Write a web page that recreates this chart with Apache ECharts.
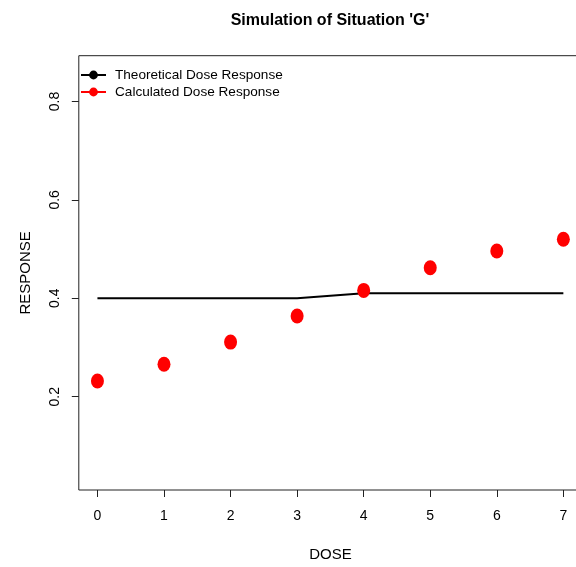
<!DOCTYPE html>
<html><head><meta charset="utf-8">
<script src="https://cdn.jsdelivr.net/npm/echarts@6/dist/echarts.min.js"></script>
<style>html,body{margin:0;padding:0;background:#fff}#c{width:576px;height:567px}</style>
</head><body><div id="c"></div>
<script>
const doses = [0, 1, 2, 3, 4, 5, 6, 7];
const theoretical = [0.40, 0.40, 0.40, 0.40, 0.41, 0.41, 0.41, 0.41];
const calculated = [0.232, 0.266, 0.311, 0.364, 0.416, 0.462, 0.496, 0.520];
const xTicks = [0, 1, 2, 3, 4, 5, 6, 7];
const yTicks = [0.2, 0.4, 0.6, 0.8];

const font = 'Liberation Sans, Arial, Helvetica, sans-serif';
const chart = echarts.init(document.getElementById('c'));
chart.setOption({
  animation: false,
  backgroundColor: '#fff',
  title: {
    text: "Simulation of Situation 'G'",
    left: 325, top: 8, textAlign: 'center',
    textStyle: {fontFamily: font, fontSize: 16, fontWeight: 'bold', color: '#000'}
  },
  legend: {
    orient: 'vertical', left: 75, top: 63,
    itemWidth: 25, itemHeight: 11, itemGap: 3,
    textStyle: {fontFamily: font, fontSize: 13.6, lineHeight: 11, color: '#000', padding: [0,0,0,4]},
    data: [
      {name: 'Theoretical Dose Response', itemStyle: {color: '#000'}, lineStyle: {color: '#000', width: 2, opacity: 1}},
      {name: 'Calculated Dose Response', itemStyle: {color: '#f00'}, lineStyle: {color: '#f00', width: 2, opacity: 1}}
    ]
  },
  grid: {left: 78.8, width: 503.2, top: 55.7, bottom: 77, show: true, borderColor: '#222', borderWidth: 1,
    containLabel: false, outerBoundsMode: 'none'},
  xAxis: {
    type: 'value', min: -0.28, max: 7.28,
    name: 'DOSE', nameLocation: 'middle', nameGap: 57,
    nameTextStyle: {fontFamily: font, fontSize: 15, color: '#000'},
    axisLine: {show: false, onZero: false},
    splitLine: {show: false},
    axisTick: {show: true, length: 7, lineStyle: {color: '#222'}, customValues: xTicks},
    axisLabel: {customValues: xTicks, margin: 19, fontFamily: font, fontSize: 14, color: '#000'}
  },
  yAxis: {
    type: 'value', min: 0.0104, max: 0.893,
    name: 'RESPONSE', nameLocation: 'middle', nameGap: 45, nameRotate: 90,
    nameTextStyle: {fontFamily: font, fontSize: 15, color: '#000'},
    axisLine: {show: false, onZero: false},
    splitLine: {show: false},
    axisTick: {show: true, length: 7, lineStyle: {color: '#222'}, customValues: yTicks},
    axisLabel: {customValues: yTicks, rotate: 90, margin: 17, fontFamily: font, fontSize: 14, color: '#000',
      formatter: v => String(+v.toFixed(1))}
  },
  series: [
    {
      name: 'Theoretical Dose Response', type: 'line',
      data: doses.map((d, i) => [d, theoretical[i]]),
      symbol: 'circle', showSymbol: false, symbolSize: 9,
      itemStyle: {color: '#000'},
      lineStyle: {color: '#000', width: 2}
    },
    {
      name: 'Calculated Dose Response', type: 'line',
      data: doses.map((d, i) => [d, calculated[i]]),
      symbol: 'circle', symbolSize: [13, 15],
      itemStyle: {color: '#f00'},
      lineStyle: {opacity: 0, width: 0}
    }
  ]
});
</script></body></html>
